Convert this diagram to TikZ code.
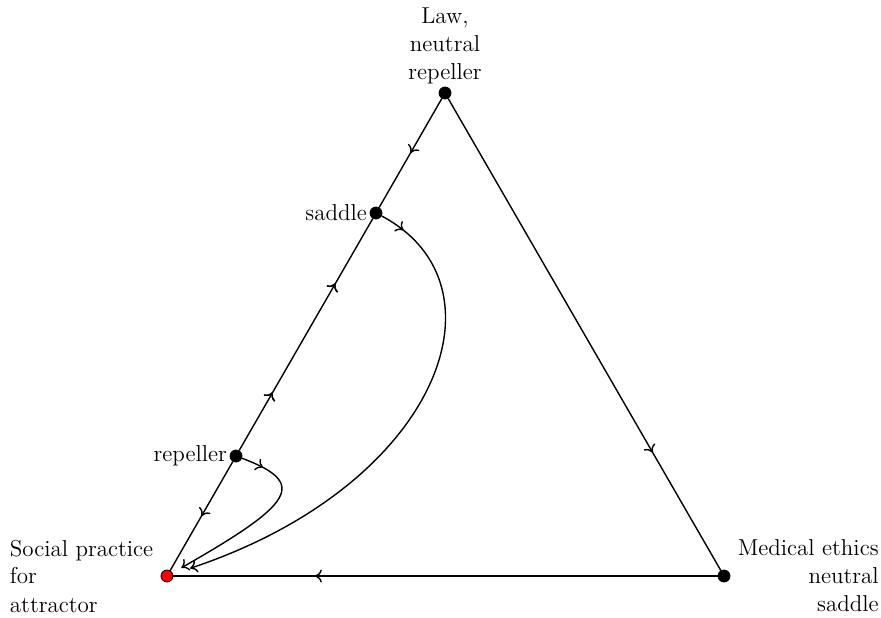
\documentclass[tikz,border=0pt]{standalone}
\usetikzlibrary{arrows.meta, decorations.markings}
\begin{document}
\begin{tikzpicture}[
		x=0.5pt,
		y=-0.5pt,
		line width=0.7pt,
		>={To[length=3.5pt, width=6.5pt]},
		every node/.style={
				font=\fontsize{11.5}{14}\selectfont
			},
		point/.style={
				circle,
				draw,
				line width=0.4pt,
				fill=black,
				inner sep=0pt,
				minimum size=6pt % size of the equilibrium dots
			},
		arrowat/.style={
				postaction={decorate},
				decoration={markings, mark=at position #1 with {\arrow{>}}}
			}
	]
	\useasboundingbox (0,0) rectangle (881,617);

	\node[point] (law) at (445, 93) {};
	\node[point] (saddle) at (376, 213) {};
	\node[point] (rep) at (236, 456) {};
	\node[point, fill=red] (soc) at (167, 576) {};
	\node[point] (med) at (724, 576) {};

	\node[anchor=south, align=center, inner sep=1pt] (lawlbl) at (law.north) {Law,\\neutral\\repeller};
	\node[anchor=east, inner sep=1pt] (saddlelbl) at (saddle.west) {saddle};
	\node[anchor=east, inner sep=1pt] (replbl) at (rep.west) {repeller};
	\node[anchor=east, align=left] (soclbl) at (soc.west) {Social practice\\for\\attractor};
	\node[anchor=west, align=right] (medlbl) at (med.east) {Medical ethics\\neutral\\saddle};

	% edges of the simplex
	\draw[arrowat=0.5] (law) -- (saddle);
	\draw[arrowat=0.25, arrowat=0.72] (rep) -- (saddle);
	\draw[arrowat=0.5] (rep) -- (soc);
	\draw[arrowat=0.75] (law) -- (med);
	\draw[arrowat=0.74] (med) -- (soc);

	% interior orbits
	\draw[->, shorten >=9pt, arrowat=0.05] (saddle) .. controls (512, 285) and (440, 485) .. (soc);
	\draw[->, shorten >=5pt, arrowat=0.12] (rep) .. controls (308, 483) and (295, 503) .. (soc);
\end{tikzpicture}
\end{document}
